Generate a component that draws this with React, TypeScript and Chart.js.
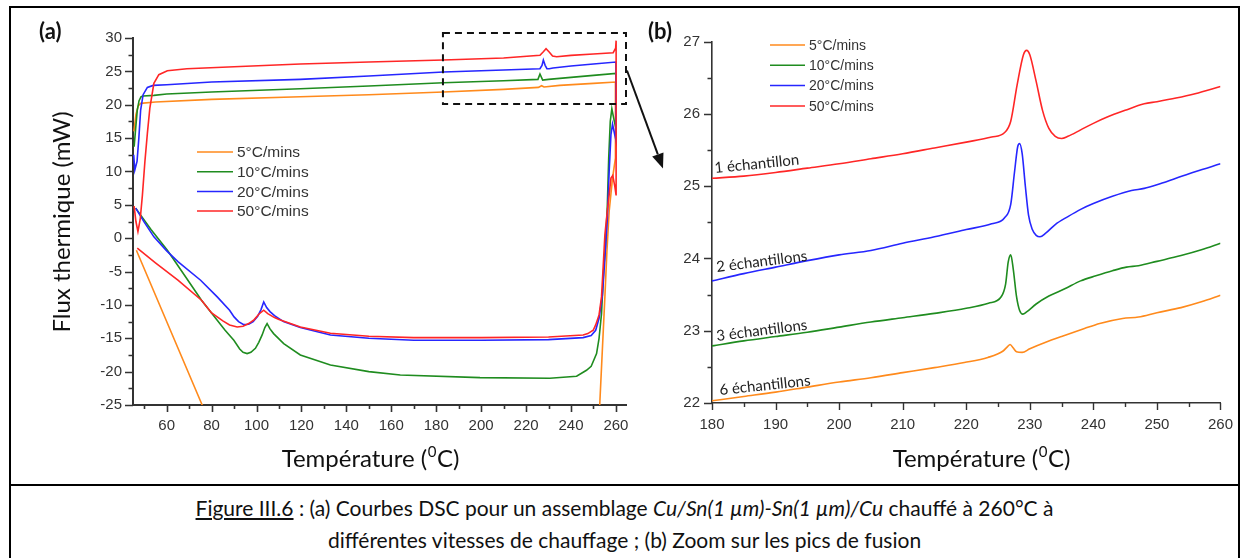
import React, { useEffect, useRef } from 'react';
import { Chart, registerables } from 'chart.js';

Chart.register(...registerables);

// ---------- shared series info ----------
const SERIES_LABELS = ['5°C/mins', '10°C/mins', '20°C/mins', '50°C/mins'];
const SERIES_COLORS = ['#ff8a1c', '#1f8c1f', '#2626ff', '#ff2626'];
const SERIES_ORDER = [3, 2, 1, 0]; // red drawn on top

// ---------- panel (a): full DSC curves (path order) ----------
const A_T_5 = [45.4, 46.3, 47.3, 48.4, 55, 80, 119.5, 150, 183.2, 210, 225.5, 226.9, 228, 235, 250, 260, 259.8, 258.5, 257, 256, 255.1, 252.8, 251.5, 80, 75.8, 46.5];
const A_Y_5 = [16, 18.5, 19.8, 20.2, 20.4, 20.8, 21.2, 21.5, 21.9, 22.3, 22.6, 22.85, 22.65, 22.9, 23.2, 23.4, 12, 9, 4, -2, -8.8, -25, -34, -28.3, -25, -1.8];

const A_T_10 = [45.5, 46.2, 46.9, 47.7, 48.6, 49.5, 54.3, 60, 80, 119.5, 150, 183.2, 210, 225.3, 226.2, 227.4, 230, 240, 250, 260, 260, 259.3, 258.2, 257.5, 256.8, 256.2, 255.4, 254.6, 253.6, 252.5, 251.4, 249, 246.9, 242.5, 230.6, 199.5, 164, 150, 132.9, 119.5, 112.1, 107.6, 106, 104.7, 103.7, 102.5, 101, 99.5, 97.5, 95.8, 94, 92.5, 89.9, 86, 82.5, 75.5, 68, 60.3, 53, 46.2];
const A_Y_10 = [13.7, 16.5, 19.2, 20.6, 21.2, 21.3, 21.4, 21.6, 21.9, 22.4, 22.8, 23.3, 23.6, 23.8, 24.6, 23.7, 23.8, 24.1, 24.4, 24.7, 16.5, 17.5, 19.4, 17.5, 12, 5, -1, -4.5, -11.3, -15, -17.3, -19.2, -19.8, -20.7, -21.0, -20.9, -20.5, -20.0, -19.0, -17.5, -15.8, -14.3, -13.6, -12.8, -13.4, -14.5, -15.6, -16.5, -17.1, -17.3, -17.1, -16.6, -15.3, -13.8, -12.3, -9.3, -5.6, -1.8, 1.3, 4.5];

const A_T_20 = [45.3, 45.8, 46.8, 47.6, 48.4, 49.5, 51.4, 54, 60, 80, 119.5, 150, 183.2, 210, 226.2, 227.1, 227.7, 228.5, 229.3, 230.3, 232, 240, 250, 260, 260, 259.5, 258.5, 257.8, 257, 256.2, 255.1, 254, 252.5, 251, 249, 245.4, 230, 200, 170, 150, 132.9, 119.5, 112, 108, 106, 104.5, 103.2, 102, 100.5, 98.5, 96.5, 94.3, 92, 90, 88, 82.5, 75.1, 65, 60, 54.3, 50, 46.2];
const A_Y_20 = [12.5, 10.2, 11.5, 15, 19.2, 21.5, 22.6, 22.9, 23.0, 23.4, 23.8, 24.3, 24.9, 25.2, 25.4, 25.9, 26.7, 25.9, 25.4, 25.4, 25.5, 25.8, 26.1, 26.4, 14.7, 15.5, 17.1, 15.5, 10, 3, -3, -8.5, -12, -13.8, -14.6, -14.9, -15.2, -15.3, -15.3, -15.0, -14.5, -13.4, -12.5, -11.6, -11.0, -10.4, -9.55, -10.7, -11.7, -12.5, -12.9, -12.95, -12.5, -11.8, -10.8, -8.8, -6.3, -3.5, -1.9, 0.2, 2.4, 4.5];

const A_T_50 = [45.5, 46.3, 47.2, 48.2, 49.2, 50.3, 51.4, 52.5, 54.3, 56.5, 60.3, 69, 90, 119.5, 150, 183.2, 210, 226.2, 227.6, 228.9, 230.3, 231.8, 233.6, 240, 250, 258.8, 259.9, 260.1, 260.1, 259.5, 258.6, 257.8, 257, 256, 255.1, 254.3, 253.6, 252.5, 251, 249.9, 247.5, 245.4, 230, 200, 170, 150, 132.9, 119.5, 110, 108, 105, 103.2, 101, 99, 96.5, 94, 91.4, 88, 85, 80, 75.5, 65, 55, 46.9];
const A_Y_50 = [4.8, 2.5, 1.0, 2.8, 6.5, 11.5, 15.7, 19.5, 23.2, 24.5, 25.1, 25.4, 25.7, 26.1, 26.4, 26.7, 27.0, 27.4, 27.9, 28.4, 27.9, 27.3, 27.2, 27.4, 27.6, 27.8, 28.5, 29.6, 6.4, 7.8, 9.4, 9.0, 6.5, 3.5, 0.5, -4.5, -8.8, -11.5, -13, -13.8, -14.3, -14.5, -14.8, -14.9, -14.9, -14.7, -14.25, -13.3, -12.2, -11.9, -11.3, -10.8, -11.4, -12.2, -12.8, -13.2, -13.3, -13.0, -12.4, -11.2, -9.3, -6.3, -3.7, -1.5];

const A_X_TICKS = [60, 80, 100, 120, 140, 160, 180, 200, 220, 240, 260];
const A_X_MINOR = [50, 70, 90, 110, 130, 150, 170, 190, 210, 230, 250];
const A_Y_TICKS = [-25, -20, -15, -10, -5, 0, 5, 10, 15, 20, 25, 30];
const A_Y_MINOR = [-22.5, -17.5, -12.5, -7.5, -2.5, 2.5, 7.5, 12.5, 17.5, 22.5, 27.5];
const A_ZOOM_BOX = { x0: 183, x1: 264.5, y0: 20.1, y1: 30.75 };

// ---------- panel (b): zoom on melting peaks ----------
const B_T_5 = [180, 185, 190, 195, 200, 205, 210, 215, 219.7, 223.4, 225.8, 226.5, 226.9, 227.4, 227.9, 228.8, 230, 232.5, 235, 238.6, 241, 244.6, 247.1, 250, 253.8, 257, 260];
const B_Y_5 = [22.03, 22.09, 22.15, 22.22, 22.29, 22.35, 22.42, 22.49, 22.56, 22.63, 22.72, 22.78, 22.81, 22.76, 22.71, 22.7, 22.75, 22.84, 22.92, 23.03, 23.1, 23.17, 23.19, 23.25, 23.32, 23.4, 23.49];

const B_T_10 = [180, 185, 190, 195, 200, 205, 210, 215, 220, 223.5, 225.5, 226.2, 226.6, 227, 227.4, 227.9, 228.4, 228.9, 229.5, 231, 233, 235.5, 238, 240.4, 243, 245.2, 247.1, 250, 253.8, 257, 260];
const B_Y_10 = [22.79, 22.86, 22.92, 22.98, 23.05, 23.12, 23.18, 23.24, 23.31, 23.38, 23.47, 23.65, 23.95, 24.05, 23.85, 23.48, 23.28, 23.23, 23.26, 23.37, 23.48, 23.58, 23.69, 23.76, 23.83, 23.88, 23.9, 23.96, 24.04, 24.12, 24.21];

const B_T_20 = [180, 185, 190, 195, 200, 205, 210, 215, 220, 224, 226, 227, 227.6, 228.1, 228.4, 228.8, 229.3, 229.8, 230.4, 231, 231.6, 232.5, 234, 236, 238, 240, 243, 246, 248, 250, 253, 256, 260];
const B_Y_20 = [23.69, 23.79, 23.88, 23.97, 24.05, 24.11, 24.21, 24.3, 24.4, 24.48, 24.56, 24.75, 25.2, 25.55, 25.59, 25.45, 25.0, 24.6, 24.4, 24.32, 24.3, 24.35, 24.47, 24.58, 24.68, 24.76, 24.86, 24.94, 24.97, 25.02, 25.11, 25.2, 25.31];

const B_T_50 = [180, 185, 190, 195, 200, 205, 210, 215, 220, 224, 226, 227, 228, 229, 229.5, 230, 231, 232, 233, 234, 235, 236, 238, 240, 242, 245, 248, 250, 253, 256, 260];
const B_Y_50 = [25.11, 25.14, 25.19, 25.25, 25.31, 25.38, 25.45, 25.53, 25.61, 25.68, 25.74, 25.9, 26.4, 26.82, 26.88, 26.82, 26.45, 26.05, 25.8, 25.69, 25.66, 25.69, 25.78, 25.87, 25.95, 26.05, 26.14, 26.17, 26.22, 26.28, 26.38];

const B_X_TICKS = [180, 190, 200, 210, 220, 230, 240, 250, 260];
const B_X_MINOR = [185, 195, 205, 215, 225, 235, 245, 255];
const B_Y_TICKS = [22, 23, 24, 25, 26, 27];
const B_Y_MINOR = [22.5, 23.5, 24.5, 25.5, 26.5];
const B_SAMPLE_LABELS = ['6 échantillons', '3 échantillons', '2 échantillons', '1 échantillon'];

const A_SERIES = [[A_T_5, A_Y_5], [A_T_10, A_Y_10], [A_T_20, A_Y_20], [A_T_50, A_Y_50]];
const B_SERIES = [[B_T_5, B_Y_5], [B_T_10, B_Y_10], [B_T_20, B_Y_20], [B_T_50, B_Y_50]];

const TITLE_FONT = 'Lato, "Open Sans", sans-serif';
const TICK_FONT = '"Liberation Sans", Arial, sans-serif';

function drawTempTitle(ctx: CanvasRenderingContext2D, cx: number, cy: number, size: number) {
  const f = `${size}px ${TITLE_FONT}`;
  const fs = `${Math.round(size * 0.62)}px ${TITLE_FONT}`;
  const a = 'Température (';
  const s = '0';
  const b = 'C)';
  ctx.font = f;
  const wa = ctx.measureText(a).width;
  const wb = ctx.measureText(b).width;
  ctx.font = fs;
  const ws = ctx.measureText(s).width;
  let x = cx - (wa + ws + wb) / 2;
  const base = cy + size * 0.36;
  ctx.textAlign = 'left';
  ctx.textBaseline = 'alphabetic';
  ctx.fillStyle = '#111';
  ctx.font = f;
  ctx.fillText(a, x, base);
  x += wa;
  ctx.font = fs;
  ctx.fillText(s, x + 0.5, base - size * 0.4);
  x += ws + 1;
  ctx.font = f;
  ctx.fillText(b, x, base);
}

function drawTicks(chart: any, xMajor: number[], xMinor: number[], yMajor: number[], yMinor: number[], width: number) {
  const ctx = chart.ctx as CanvasRenderingContext2D;
  const { left, bottom } = chart.chartArea;
  const xs = chart.scales.x;
  const ys = chart.scales.y;
  ctx.save();
  ctx.strokeStyle = '#333';
  ctx.lineWidth = width;
  ctx.beginPath();
  const seg = (x0: number, y0: number, x1: number, y1: number) => {
    ctx.moveTo(x0, y0);
    ctx.lineTo(x1, y1);
  };
  xMajor.forEach((v) => { const p = Math.round(xs.getPixelForValue(v)) + 0.5; seg(p, bottom, p, bottom + 7); });
  xMinor.forEach((v) => { const p = Math.round(xs.getPixelForValue(v)) + 0.5; seg(p, bottom, p, bottom + 4); });
  yMajor.forEach((v) => { const p = Math.round(ys.getPixelForValue(v)) + 0.5; seg(left - 8, p, left, p); });
  yMinor.forEach((v) => { const p = Math.round(ys.getPixelForValue(v)) + 0.5; seg(left - 4.5, p, left, p); });
  ctx.stroke();
  ctx.restore();
}

function drawLegend(ctx: CanvasRenderingContext2D, x: number, y: number, dy: number, len: number, size: number) {
  ctx.save();
  ctx.font = `${size}px ${TICK_FONT}`;
  ctx.textAlign = 'left';
  ctx.textBaseline = 'middle';
  SERIES_LABELS.forEach((lab, i) => {
    const yy = y + i * dy;
    ctx.strokeStyle = SERIES_COLORS[i];
    ctx.lineWidth = 1.5;
    ctx.beginPath();
    ctx.moveTo(x, yy);
    ctx.lineTo(x + len, yy);
    ctx.stroke();
    ctx.fillStyle = '#333';
    ctx.fillText(lab, x + len + 4, yy + 1);
  });
  ctx.restore();
}

function makeDatasets(series: number[][][], smooth: boolean) {
  return series.map(([t, y], i) => ({
    label: SERIES_LABELS[i],
    data: t.map((tv, k) => ({ x: tv, y: y[k] })),
    borderColor: SERIES_COLORS[i],
    backgroundColor: SERIES_COLORS[i],
    borderWidth: 1.6,
    pointRadius: 0,
    fill: false,
    order: SERIES_ORDER[i],
    tension: 0,
    cubicInterpolationMode: smooth ? 'monotone' : 'default',
  }));
}

function scaleOpts(min: number, max: number, ticks: number[], fit: (s: any) => void, padding: number, bw: number) {
  return {
    type: 'linear',
    min,
    max,
    afterBuildTicks: (s: any) => { s.ticks = ticks.map((v) => ({ value: v })); },
    afterFit: fit,
    grid: { display: false, drawTicks: false },
    border: { display: true, color: '#333', width: bw },
    ticks: { font: { family: TICK_FONT, size: 15 }, color: '#333', padding, maxRotation: 0, autoSkip: false },
  };
}

function PanelA() {
  const ref = useRef<HTMLCanvasElement | null>(null);
  useEffect(() => {
    if (!ref.current) return;
    const deco = {
      id: 'decoA',
      afterDraw(chart: any) {
        const ctx = chart.ctx as CanvasRenderingContext2D;
        drawTicks(chart, A_X_TICKS, A_X_MINOR, A_Y_TICKS, A_Y_MINOR, 1.6);
        const xs = chart.scales.x;
        const ys = chart.scales.y;
        // zoom box
        const bx0 = xs.getPixelForValue(A_ZOOM_BOX.x0);
        const bx1 = xs.getPixelForValue(A_ZOOM_BOX.x1);
        const by0 = ys.getPixelForValue(A_ZOOM_BOX.y1);
        const by1 = ys.getPixelForValue(A_ZOOM_BOX.y0);
        ctx.save();
        ctx.strokeStyle = '#111';
        ctx.lineWidth = 2;
        ctx.setLineDash([7, 5]);
        ctx.strokeRect(bx0, by0, bx1 - bx0, by1 - by0);
        ctx.setLineDash([]);
        // arrow to panel (b)
        const sx = bx1 + 1, sy = (by0 + by1) / 2 + 2;
        const ex = sx + 36, ey = sy + 98;
        const ang = Math.atan2(ey - sy, ex - sx);
        const hl = 15, hw = 6;
        const bxp = ex - hl * Math.cos(ang), byp = ey - hl * Math.sin(ang);
        ctx.lineWidth = 2;
        ctx.beginPath();
        ctx.moveTo(sx, sy);
        ctx.lineTo(bxp, byp);
        ctx.stroke();
        ctx.fillStyle = '#111';
        ctx.beginPath();
        ctx.moveTo(ex, ey);
        ctx.lineTo(bxp + hw * Math.sin(ang), byp - hw * Math.cos(ang));
        ctx.lineTo(bxp - hw * Math.sin(ang), byp + hw * Math.cos(ang));
        ctx.closePath();
        ctx.fill();
        ctx.restore();
        // legend
        drawLegend(ctx, 197, 152, 19.7, 36, 15.5);
        // titles
        ctx.save();
        ctx.fillStyle = '#111';
        ctx.font = `bold 22px ${TITLE_FONT}`;
        ctx.textAlign = 'left';
        ctx.textBaseline = 'middle';
        ctx.fillText('(a)', 39, 32);
        ctx.translate(62, 222);
        ctx.rotate(-Math.PI / 2);
        ctx.textAlign = 'center';
        ctx.font = `24px ${TITLE_FONT}`;
        ctx.fillText('Flux thermique (mW)', 0, 0);
        ctx.restore();
        drawTempTitle(ctx, 370, 458, 24);
      },
    };
    const chart = new Chart(ref.current, {
      type: 'line',
      data: { datasets: makeDatasets(A_SERIES, false) as any },
      options: {
        animation: false,
        responsive: false,
        events: [],
        layout: { padding: { left: 0, top: 38, right: 54, bottom: 45 } },
        plugins: { legend: { display: false }, tooltip: { enabled: false }, title: { display: false } },
        scales: {
          x: scaleOpts(45, 264.5, A_X_TICKS, (s: any) => { s.height = 30; }, 12, 2) as any,
          y: scaleOpts(-25, 30, A_Y_TICKS, (s: any) => { s.width = 133; }, 11, 2) as any,
        },
      },
      plugins: [deco],
    });
    return () => chart.destroy();
  }, []);
  return <canvas ref={ref} width={680} height={480} style={{ position: 'absolute', left: 0, top: 0, width: 680, height: 480 }} />;
}

function PanelB() {
  const ref = useRef<HTMLCanvasElement | null>(null);
  useEffect(() => {
    if (!ref.current) return;
    const deco = {
      id: 'decoB',
      afterDraw(chart: any) {
        const ctx = chart.ctx as CanvasRenderingContext2D;
        drawTicks(chart, B_X_TICKS, B_X_MINOR, B_Y_TICKS, B_Y_MINOR, 1.4);
        drawLegend(ctx, 130, 45, 20.3, 35, 14);
        ctx.save();
        ctx.fillStyle = '#111';
        ctx.font = `bold 22px ${TITLE_FONT}`;
        ctx.textAlign = 'left';
        ctx.textBaseline = 'middle';
        ctx.fillText('(b)', 8, 32);
        ctx.restore();
        // sample annotations
        const pos = [[80, 395, -0.105], [77, 341, -0.125], [77, 272, -0.125], [75, 173, -0.1]];
        ctx.save();
        ctx.font = `15px ${TITLE_FONT}`;
        ctx.fillStyle = '#222';
        ctx.textAlign = 'left';
        ctx.textBaseline = 'alphabetic';
        B_SAMPLE_LABELS.forEach((lab, i) => {
          const [x, y, r] = pos[i];
          ctx.save();
          ctx.translate(x, y);
          ctx.rotate(r);
          ctx.fillText(lab, 0, 0);
          ctx.restore();
        });
        ctx.restore();
        drawTempTitle(ctx, 341, 458, 24);
      },
    };
    const chart = new Chart(ref.current, {
      type: 'line',
      data: { datasets: makeDatasets(B_SERIES, true) as any },
      options: {
        animation: false,
        responsive: false,
        events: [],
        layout: { padding: { left: 0, top: 41.7, right: 25, bottom: 47 } },
        plugins: { legend: { display: false }, tooltip: { enabled: false }, title: { display: false } },
        scales: {
          x: scaleOpts(180, 260, B_X_TICKS, (s: any) => { s.height = 30; }, 13, 1.6) as any,
          y: scaleOpts(22, 27, B_Y_TICKS, (s: any) => { s.width = 72; }, 12, 1.6) as any,
        },
      },
      plugins: [deco],
    });
    return () => chart.destroy();
  }, []);
  return <canvas ref={ref} width={606} height={480} style={{ position: 'absolute', left: 640, top: 0, width: 606, height: 480 }} />;
}

export default function App() {
  return (
    <div style={{ position: 'absolute', left: 0, top: 0, width: 1246, height: 558, overflow: 'hidden', background: '#fff' }}>
      <div style={{ position: 'absolute', left: 9, top: 6, width: 1231, height: 600, border: '2px solid #000', boxSizing: 'border-box' }} />
      <div style={{ position: 'absolute', left: 9, top: 484, width: 1231, height: 2, background: '#000' }} />
      <PanelA />
      <PanelB />
      <div
        style={{
          position: 'absolute', left: 9, top: 492, width: 1231, textAlign: 'center',
          fontFamily: TITLE_FONT, fontSize: 21, lineHeight: '32px', color: '#111',
        }}
      >
        <span style={{ textDecoration: 'underline' }}>Figure III.6</span> : (a) Courbes DSC pour un assemblage <i>Cu/Sn(1 µm)-Sn(1 µm)/Cu</i> chauffé à 260°C à
        <br />
        différentes vitesses de chauffage ; (b) Zoom sur les pics de fusion
      </div>
    </div>
  );
}
